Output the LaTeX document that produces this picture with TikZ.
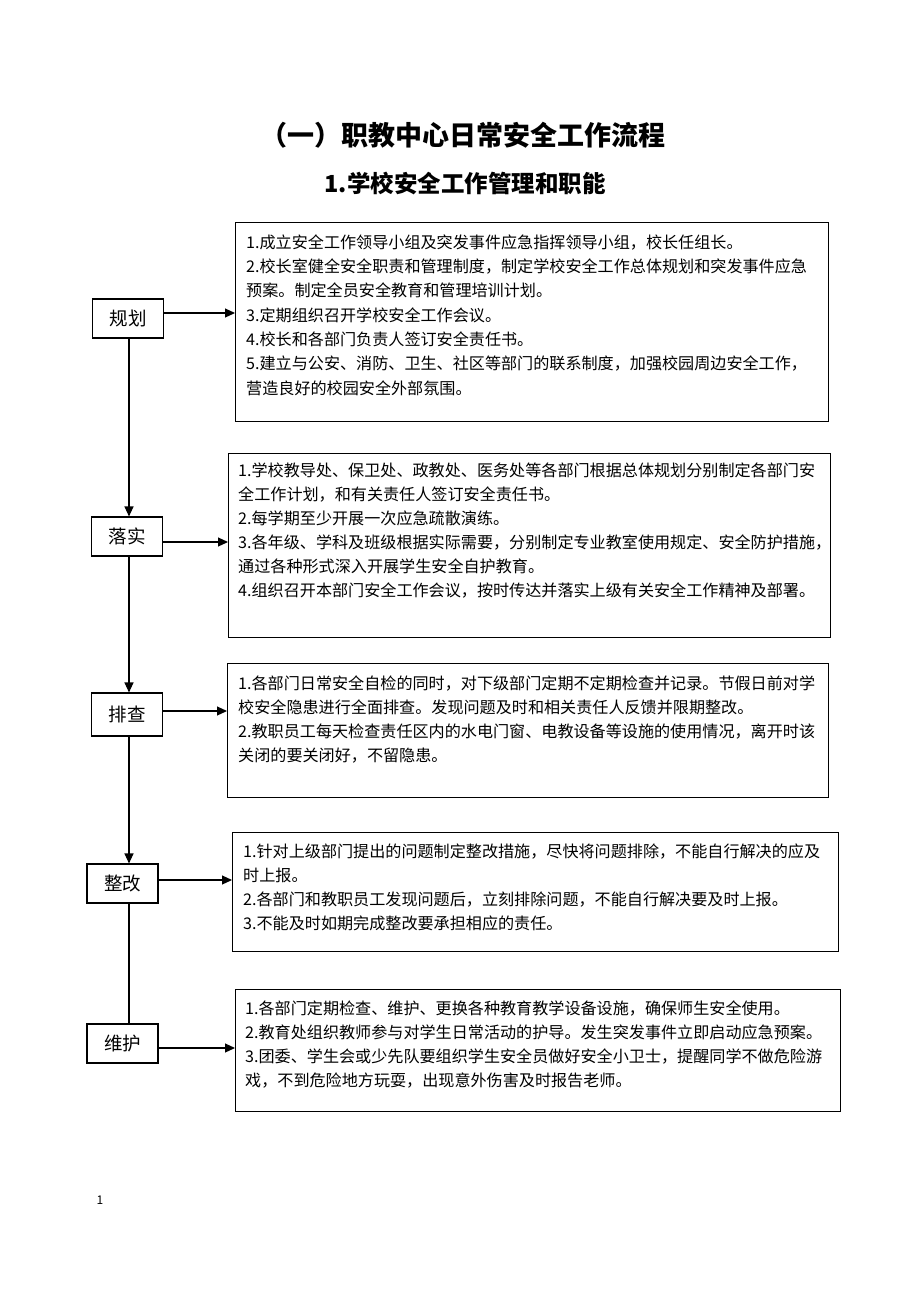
\documentclass[tikz,border=0pt]{standalone}
\usepackage{fontspec}
\setmainfont{Noto Sans CJK SC}
\usetikzlibrary{arrows.meta}
\begin{document}
\begin{tikzpicture}[x=1pt,y=-1pt,
  lbox/.style={draw, line width=1.1pt, minimum width=71pt, minimum height=39pt, inner sep=0pt, font=\fontsize{18.5}{20}\selectfont},
  rbox/.style={draw, line width=1.1pt, anchor=north west, inner sep=0pt},
  txt/.style={anchor=base west, inner sep=0pt, font=\fontsize{16.1}{20}\selectfont},
  conn/.style={line width=1.1pt},
  arr/.style={conn, -{Triangle[length=10pt,width=9pt]}}]
\useasboundingbox (0,0) rectangle (920,1302);
% titles
\node[font=\fontsize{27}{30}\selectfont\bfseries] (title) at (463,135) {（一）职教中心日常安全工作流程};
\node[font=\fontsize{23.5}{28}\selectfont\bfseries] (subtitle) at (465,183) {1.学校安全工作管理和职能};
% left boxes
\node[lbox] (l1) at (128,318.5) {规划};
\node[lbox] (l2) at (127,536.5) {落实};
\node[lbox, minimum height=43pt] (l3) at (127,714.5) {排查};
\node[lbox] (l4) at (122.5,883.5) {整改};
\node[lbox] (l5) at (122.5,1043.5) {维护};
% right boxes
\node[rbox, minimum width=593pt, minimum height=199pt] (r1) at (235,222) {};
\node[rbox, minimum width=602pt, minimum height=184pt] (r2) at (228,453) {};
\node[rbox, minimum width=601pt, minimum height=134pt] (r3) at (227,663) {};
\node[rbox, minimum width=606pt, minimum height=119pt] (r4) at (232,832) {};
\node[rbox, minimum width=605pt, minimum height=122pt] (r5) at (235,989) {};
% box 1 text
\node[txt] (t11) at (246,248.2) {1.成立安全工作领导小组及突发事件应急指挥领导小组，校长任组长。};
\node[txt] (t12) at (246,272.5) {2.校长室健全安全职责和管理制度，制定学校安全工作总体规划和突发事件应急};
\node[txt] (t13) at (246,296.8) {预案。制定全员安全教育和管理培训计划。};
\node[txt] (t14) at (246,321.1) {3.定期组织召开学校安全工作会议。};
\node[txt] (t15) at (246,345.4) {4.校长和各部门负责人签订安全责任书。};
\node[txt] (t16) at (246,369.7) {5.建立与公安、消防、卫生、社区等部门的联系制度，加强校园周边安全工作，};
\node[txt] (t17) at (246,394.0) {营造良好的校园安全外部氛围。};
% box 2 text
\node[txt] (t21) at (238,476.2) {1.学校教导处、保卫处、政教处、医务处等各部门根据总体规划分别制定各部门安};
\node[txt] (t22) at (238,500.2) {全工作计划，和有关责任人签订安全责任书。};
\node[txt] (t23) at (238,524.2) {2.每学期至少开展一次应急疏散演练。};
\node[txt] (t24) at (238,548.2) {3.各年级、学科及班级根据实际需要，分别制定专业教室使用规定、安全防护措施，};
\node[txt] (t25) at (238,572.2) {通过各种形式深入开展学生安全自护教育。};
\node[txt] (t26) at (238,596.2) {4.组织召开本部门安全工作会议，按时传达并落实上级有关安全工作精神及部署。};
% box 3 text
\node[txt] (t31) at (238,689.2) {1.各部门日常安全自检的同时，对下级部门定期不定期检查并记录。节假日前对学};
\node[txt] (t32) at (238,713.2) {校安全隐患进行全面排查。发现问题及时和相关责任人反馈并限期整改。};
\node[txt] (t33) at (238,737.2) {2.教职员工每天检查责任区内的水电门窗、电教设备等设施的使用情况，离开时该};
\node[txt] (t34) at (238,761.2) {关闭的要关闭好，不留隐患。};
% box 4 text
\node[txt] (t41) at (243,857.2) {1.针对上级部门提出的问题制定整改措施，尽快将问题排除，不能自行解决的应及};
\node[txt] (t42) at (243,881.2) {时上报。};
\node[txt] (t43) at (243,905.2) {2.各部门和教职员工发现问题后，立刻排除问题，不能自行解决要及时上报。};
\node[txt] (t44) at (243,929.2) {3.不能及时如期完成整改要承担相应的责任。};
% box 5 text
\node[txt] (t51) at (245,1014.2) {1.各部门定期检查、维护、更换各种教育教学设备设施，确保师生安全使用。};
\node[txt] (t52) at (245,1038.2) {2.教育处组织教师参与对学生日常活动的护导。发生突发事件立即启动应急预案。};
\node[txt] (t53) at (245,1062.2) {3.团委、学生会或少先队要组织学生安全员做好安全小卫士，提醒同学不做危险游};
\node[txt] (t54) at (245,1086.2) {戏，不到危险地方玩耍，出现意外伤害及时报告老师。};
% page number
\node[font=\fontsize{12}{14}\selectfont, inner sep=0pt] (pn) at (100,1200) {1};
% horizontal arrows
\draw[arr] ([yshift=5.5pt]l1.east) -- ([yshift=5.5pt]l1.east -| r1.west);
\draw[arr] ([yshift=-5.5pt]l2.east) -- ([yshift=-5.5pt]l2.east -| r2.west);
\draw[arr] ([yshift=3.5pt]l3.east) -- ([yshift=3.5pt]l3.east -| r3.west);
\draw[arr] ([yshift=3.5pt]l4.east) -- ([yshift=3.5pt]l4.east -| r4.west);
\draw[arr] ([yshift=-4.5pt]l5.east) -- ([yshift=-4.5pt]l5.east -| r5.west);
% vertical flow
\draw[arr] ([xshift=1pt]l1.south) -- ([xshift=1pt]l1.south |- l2.north);
\draw[arr] ([xshift=2pt]l2.south) -- ([xshift=2pt]l2.south |- l3.north);
\draw[arr] ([xshift=2pt]l3.south) -- ([xshift=2pt]l3.south |- l4.north);
\draw[conn] ([xshift=6.5pt]l4.south) -- ([xshift=6.5pt]l4.south |- l5.north);
\end{tikzpicture}
\end{document}
